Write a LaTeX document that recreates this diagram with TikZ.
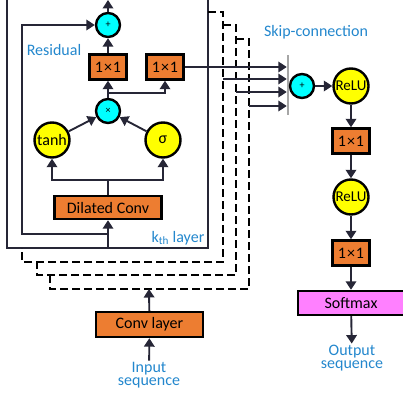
\documentclass[tikz,border=0pt]{standalone}
\usepackage{fontspec}
\setmainfont{Carlito}
\usetikzlibrary{arrows.meta}

\definecolor{convorange}{HTML}{ED7D31}
\definecolor{opcyan}{HTML}{00FFFF}
\definecolor{gateyellow}{HTML}{FFFF00}
\definecolor{softpink}{HTML}{FF80FF}
\definecolor{noteblue}{RGB}{35,135,205}
\definecolor{linegray}{HTML}{262636}

\begin{document}
\begin{tikzpicture}[
    x=1pt, y=-1pt,
    font=\fontsize{16}{13.5}\selectfont,
    box/.style={rectangle, draw=black, line width=2.4pt, fill=convorange, minimum height=24pt, inner sep=2pt},
    unit/.style={box, minimum width=37pt, minimum height=25pt},
    gate/.style={circle, draw=black, line width=2.4pt, fill=gateyellow, minimum size=35pt, inner sep=0pt},
    op/.style={circle, draw=black, line width=2.4pt, fill=opcyan, minimum size=24pt, inner sep=0pt, font=\fontsize{10}{10}\selectfont},
    note/.style={text=noteblue, align=center, inner sep=1pt},
    arrow/.style={-{Triangle[length=8.5pt, width=10.5pt]}, line width=1.9pt, draw=linegray},
    link/.style={line width=1.9pt, draw=linegray},
    layer/.style={draw=linegray, line width=1.3pt},
    stack/.style={draw=black, line width=2pt, dash pattern=on 8pt off 4pt}
]
\useasboundingbox (0,0) rectangle (403,396);

% Layer outlines
\draw[layer] (7,0) -- (7,248) -- (208,248) -- (208,0);
\draw[stack] (208,12) -- (223,12) -- (223,262) -- (22,262) -- (22,248);
\draw[stack] (223,25) -- (236,25) -- (236,275) -- (37,275) -- (37,262);
\draw[stack] (236,39) -- (249,39) -- (249,289) -- (50,289) -- (50,275);

% Inside the k-th layer
\node[op] (sum1) at (108,25) {+};
\node[unit] (c1a) at (108,67) {1\kern1pt×\kern1pt1};
\node[unit] (c1b) at (165,67) {1\kern1pt×\kern1pt1};
\node[op] (mul) at (108,111) {×};
\node[gate] (tanh) at (52,140) {tanh};
\node[gate] (sig) at (163,140) {σ};
\node[box, minimum width=107pt, minimum height=23pt] (dconv) at (108,207.5) {Dilated Conv};

\node[note] (res) at (54,50) {Residual};
\node[note] (kth) at (178,238) {k\textsubscript{th} layer};

\coordinate (top) at (108,0);
\coordinate (mfork) at (108,93);
\coordinate (gfork) at (108,180);
\coordinate (kin) at (108,248);
\coordinate (rfork) at (108,234);
\coordinate (rleft) at (22,234);

% Input stage
\node[box, minimum width=107pt, minimum height=25pt] (conv) at (149.5,324.5) {Conv layer};
\node[note] (inp) at (149,375) {Input\\sequence};
\coordinate (stackin) at (149,289);

% Skip outputs of the stacked layers
\coordinate (s2) at (223,79);
\coordinate (s3) at (236,92);
\coordinate (s4) at (249,106);

% Output stage
\node[note] (skip) at (316,32) {Skip-connection};
\node[fill=gray!70, minimum width=2pt, minimum height=60pt, inner sep=0pt] (bar) at (288,85) {};
\node[op] (sum2) at (302,86) {+};
\node[gate, font=\fontsize{15}{15}\selectfont] (relu1) at (351,86) {ReLU};
\node[unit] (c2) at (351,141) {1\kern1pt×\kern1pt1};
\node[gate, font=\fontsize{15}{15}\selectfont] (relu2) at (351,197) {ReLU};
\node[unit] (c3) at (351,253) {1\kern1pt×\kern1pt1};
\node[rectangle, draw=black, line width=2.4pt, fill=softpink, minimum width=106pt, minimum height=24pt] (soft) at (351,303) {Softmax};
\node[note] (out) at (352,358) {Output\\sequence};

% Arrows
\draw[arrow] (inp) -- (conv);
\draw[arrow] (conv) -- (stackin);
\draw[arrow] (kin) -- (dconv);
\draw[arrow] (rfork) -- (rleft) |- (sum1);
\draw[link] (dconv) -- (gfork);
\draw[arrow] (gfork) -| (tanh);
\draw[arrow] (gfork) -| (sig);
\draw[arrow] (tanh) -- (mul);
\draw[arrow] (sig) -- (mul);
\draw[link] (mul) -- (mfork);
\draw[arrow] (mfork) -- (c1a);
\draw[arrow] (mfork) -| (c1b);
\draw[arrow] (c1a) -- (sum1);
\draw[arrow] (sum1) -- (top);
\draw[arrow] (c1b) -- (bar.west |- c1b);
\draw[arrow] (s2) -- (bar.west |- s2);
\draw[arrow] (s3) -- (bar.west |- s3);
\draw[arrow] (s4) -- (bar.west |- s4);
\draw[arrow] (sum2) -- (relu1);
\draw[arrow] (relu1) -- (c2);
\draw[arrow] (c2) -- (relu2);
\draw[arrow] (relu2) -- (c3);
\draw[arrow] (c3) -- (soft);
\draw[arrow] (soft) -- (out);

\end{tikzpicture}
\end{document}
